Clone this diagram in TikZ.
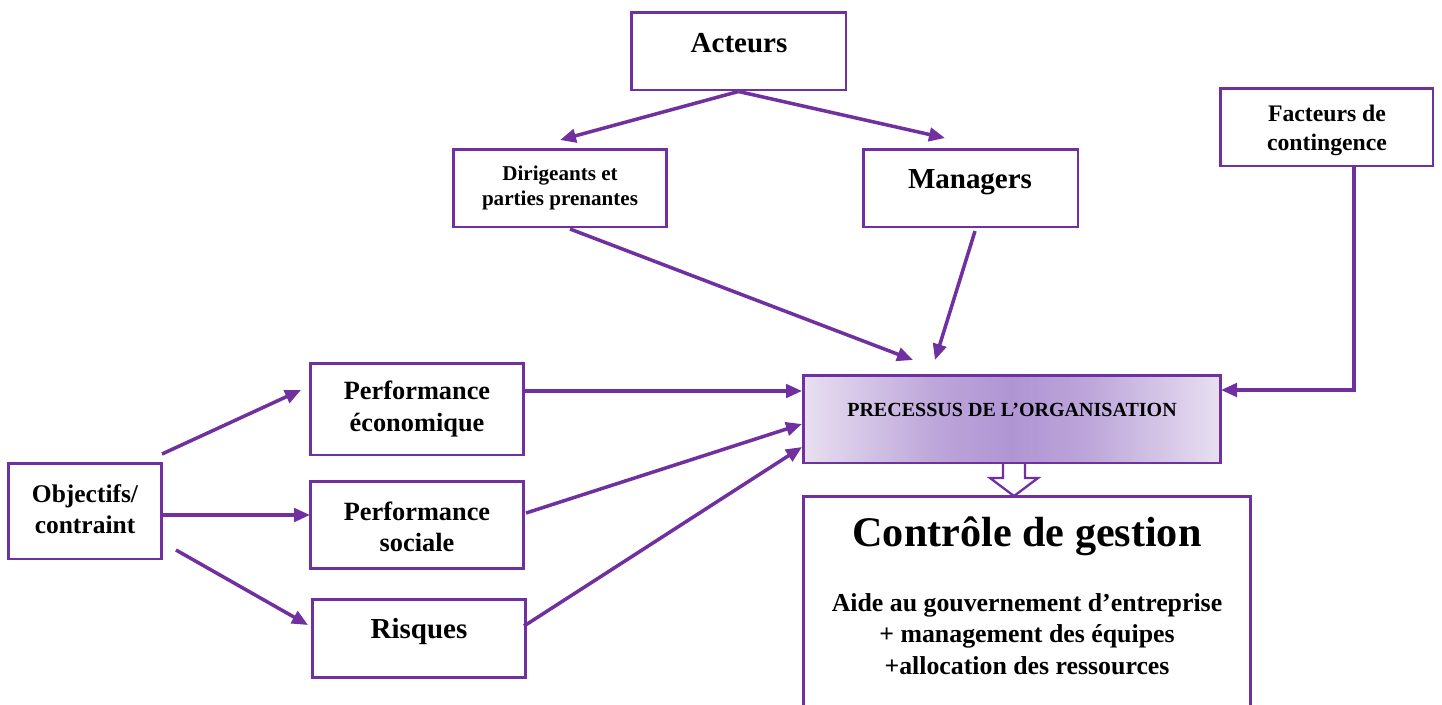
\documentclass[tikz,border=0pt]{standalone}
\usepackage{fontspec}
\setmainfont{Liberation Serif}
\usetikzlibrary{arrows.meta}
\definecolor{vio}{HTML}{7030A0}
\definecolor{procmid}{HTML}{B095D3}
\definecolor{procedge}{HTML}{E8E0F1}
% light at both sides, deeper violet in the middle
\pgfdeclarehorizontalshading{procband}{100bp}{%
  color(0bp)=(procedge); color(25bp)=(procedge);
  color(32bp)=(procmid!35!procedge); color(41bp)=(procmid!78!procedge);
  color(50bp)=(procmid);
  color(59bp)=(procmid!78!procedge); color(68bp)=(procmid!35!procedge);
  color(75bp)=(procedge); color(100bp)=(procedge)}
\newcommand{\fs}[2]{\bfseries\fontsize{#1}{#2}\selectfont}
\begin{document}
\begin{tikzpicture}[x=0.02cm,y=-0.02cm,
  box/.style={draw=vio, line width=1.7pt, fill=white, inner sep=0pt},
  txt/.style={align=center, inner sep=0pt},
  arr/.style={draw=vio, line width=2pt, -{Triangle[length=0.32cm,width=0.27cm]}}]
\useasboundingbox (0,0) rectangle (1442,704);

% boxes
\node[box, minimum width=4.3cm,  minimum height=1.56cm] (act) at (738.5,51) {};
\node[box, minimum width=4.28cm, minimum height=1.56cm] (dir) at (560,188) {};
\node[box, minimum width=4.3cm,  minimum height=1.56cm] (man) at (970.5,188) {};
\node[box, minimum width=4.26cm, minimum height=1.56cm] (fac) at (1326.5,127) {};
\node[box, minimum width=8.36cm, minimum height=1.76cm, shading=procband] (proc) at (1012,419) {};
\node[box, minimum width=8.96cm, minimum height=4.6cm] (cg) at (1027,611) {};
\node[box, minimum width=4.28cm, minimum height=1.84cm] (pe) at (417,409) {};
\node[box, minimum width=4.28cm, minimum height=1.74cm] (ps) at (417,524.5) {};
\node[box, minimum width=4.28cm, minimum height=1.56cm] (ri) at (419,638) {};
\node[box, minimum width=3.08cm, minimum height=1.92cm] (obj) at (85,511) {};

% texts
\node[txt, font=\fs{16.5}{19}] (actT) at (739,43) {Acteurs};
\node[txt, font=\fs{12}{14.2}] (dirT) at (560,188) {Dirigeants et\\parties prenantes};
\node[txt, font=\fs{16.5}{19}] (manT) at (970,182) {Managers};
\node[txt, font=\fs{13.5}{16.5}] (facT) at (1327,130) {Facteurs de\\contingence};
\node[txt, font=\fs{11.4}{14}] (procT) at (1012,410) {PRECESSUS DE L’ORGANISATION};
\node[txt, font=\fs{24}{28}] (cgT) at (1027,536) {Contrôle de gestion};
\node[txt, font=\fs{14.7}{18}] (cgB) at (1027,634) {Aide au gouvernement d’entreprise\\+ management des équipes\\+allocation des ressources};
\node[txt, font=\fs{15}{18}] (peT) at (417,409) {Performance\\économique};
\node[txt, font=\fs{15}{18}] (psT) at (417,527) {Performance\\sociale};
\node[txt, font=\fs{16.5}{19}] (riT) at (419,632) {Risques};
\node[txt, font=\fs{14.5}{18}] (objT) at (85,509) {Objectifs/\\contraint};

% free ends of the connectors
\coordinate (dirIn) at (560,140);
\coordinate (manIn) at (945,138);
\coordinate (dirOut) at (570,229);
\coordinate (procA) at (913,360);
\coordinate (manOut) at (975,231);
\coordinate (procB) at (935,360);
\coordinate (peOut) at (524,391);
\coordinate (procC) at (802,391);
\coordinate (psOut) at (526,513);
\coordinate (procD) at (802,424);
\coordinate (riOut) at (524,626);
\coordinate (procE) at (802,447);
\coordinate (facOut) at (1354,166);
\coordinate (facBend) at (1354,390);
\coordinate (procF) at (1221,390);
\coordinate (objA) at (162,454);
\coordinate (peIn) at (301,390);
\coordinate (objB) at (162,515);
\coordinate (psIn) at (310,515);
\coordinate (objC) at (176,550);
\coordinate (riIn) at (308,625);

% connectors
\draw[arr] (act.south) -- (dirIn);
\draw[arr] (act.south) -- (manIn);
\draw[arr] (dirOut) -- (procA);
\draw[arr] (manOut) -- (procB);
\draw[arr] (peOut) -- (procC);
\draw[arr] (psOut) -- (procD);
\draw[arr] (riOut) -- (procE);
\draw[arr] (facOut) -- (facBend) -- (procF);
\draw[arr] (objA) -- (peIn);
\draw[arr] (objB) -- (psIn);
\draw[arr] (objC) -- (riIn);

% hollow block arrow from the process box down to the control box
\draw[vio, line width=1.3pt, fill=white, line join=miter]
  (1003,464) -- (1003,478) -- (990,478) -- (1014,496) -- (1038,478) -- (1025,478) -- (1025,464);
\end{tikzpicture}
\end{document}
